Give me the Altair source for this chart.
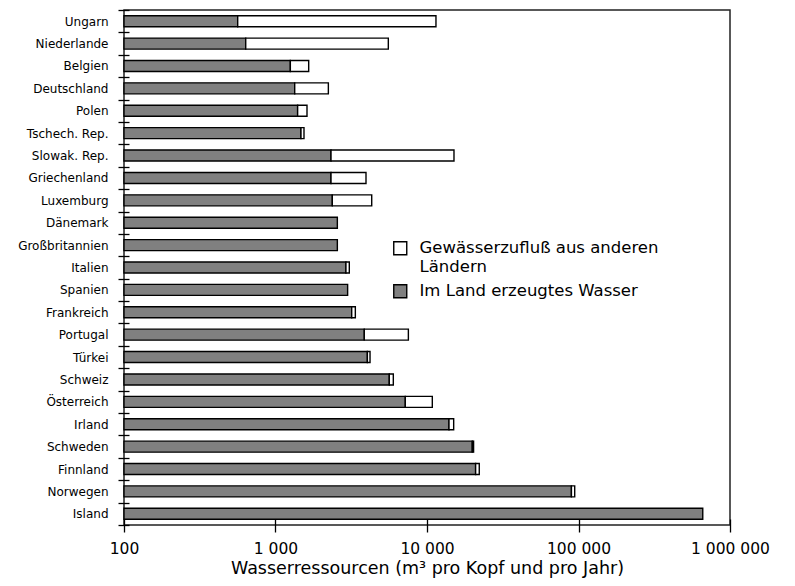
import altair as alt
import pandas as pd

countries = ["Ungarn", "Niederlande", "Belgien", "Deutschland", "Polen", "Tschech. Rep.",
             "Slowak. Rep.", "Griechenland", "Luxemburg", "Dänemark", "Großbritannien",
             "Italien", "Spanien", "Frankreich", "Portugal", "Türkei", "Schweiz",
             "Österreich", "Irland", "Schweden", "Finnland", "Norwegen", "Island"]
inland = [563, 636, 1253, 1339, 1400, 1473, 2325, 2325, 2371, 2560, 2560, 2917, 2993,
          3184, 3855, 4040, 5637, 7190, 13970, 19900, 20940, 89800, 661000]
total = [11460, 5555, 1656, 2233, 1614, 1542, 15070, 3957, 4316, 2560, 2560, 3070, 2993,
         3365, 7534, 4207, 5993, 10840, 15000, 20300, 22130, 94400, 661000]

series = ["Gewässerzufluß aus anderen Ländern", "Im Land erzeugtes Wasser"]
series_colors = ["#ffffff", "#808080"]

x_ticks = [100, 1000, 10000, 100000, 1000000]
x_tick_labels = ["100", "1 000", "10 000", "100 000", "1 000 000"]
x_min = 100

rows = []
for c, a, t in zip(countries, inland, total):
    rows.append({"land": c, "serie": series[1], "start": x_min, "end": a})
    if t > a:
        rows.append({"land": c, "serie": series[0], "start": a, "end": t})
df = pd.DataFrame(rows)

label_expr = " : ".join(
    [f"datum.value == {v} ? '{l}'" for v, l in zip(x_ticks, x_tick_labels)]) + " : ''"
legend_expr = (f"datum.label == '{series[0]}' ? ['Gewässerzufluß aus anderen', 'Ländern'] : datum.label")

chart = alt.Chart(df).mark_bar(size=11, stroke="black", strokeWidth=1.4).encode(
    x=alt.X("start:Q",
            scale=alt.Scale(type="log", domain=[x_min, 1000000], nice=False),
            axis=alt.Axis(values=x_ticks, labelExpr=label_expr, grid=False, domain=False,
                          offset=-6, tickSize=13, tickColor="black", tickWidth=1.3,
                          labelFont="DejaVu Sans", labelFontSize=15.5, labelColor="black",
                          labelPadding=9, labelFlush=False,
                          title="Wasserressourcen (m³ pro Kopf und pro Jahr)",
                          titleFont="DejaVu Sans", titleFontSize=17.5, titleFontWeight="normal",
                          titleColor="black", titlePadding=3)),
    x2="end:Q",
    y=alt.Y("land:N", sort=countries,
            scale=alt.Scale(paddingInner=0, paddingOuter=0),
            axis=alt.Axis(title=None, domain=False, offset=-5, tickSize=11,
                          tickColor="black", tickWidth=1.3, tickBand="extent",
                          labelFont="DejaVu Sans", labelFontSize=12, labelColor="black",
                          labelPadding=10)),
    color=alt.Color("serie:N",
                    scale=alt.Scale(domain=series, range=series_colors),
                    legend=alt.Legend(orient="none", legendX=268, legendY=230, title=None,
                                      padding=0, symbolType="square", symbolSize=169,
                                      symbolStrokeColor="black", symbolStrokeWidth=1.4,
                                      labelFont="DejaVu Sans", labelFontSize=16.5,
                                      labelColor="black", labelOffset=11, labelLimit=400,
                                      rowPadding=5, labelExpr=legend_expr)),
).properties(
    width=606, height=515,
    padding={"left": 116, "top": 2, "right": 40, "bottom": 60},
    autosize=alt.AutoSizeParams(type="none"),
).configure_view(
    stroke="#222222", strokeWidth=1.5
)

chart.save("out.html", embed_options={"renderer": "svg", "actions": False})
